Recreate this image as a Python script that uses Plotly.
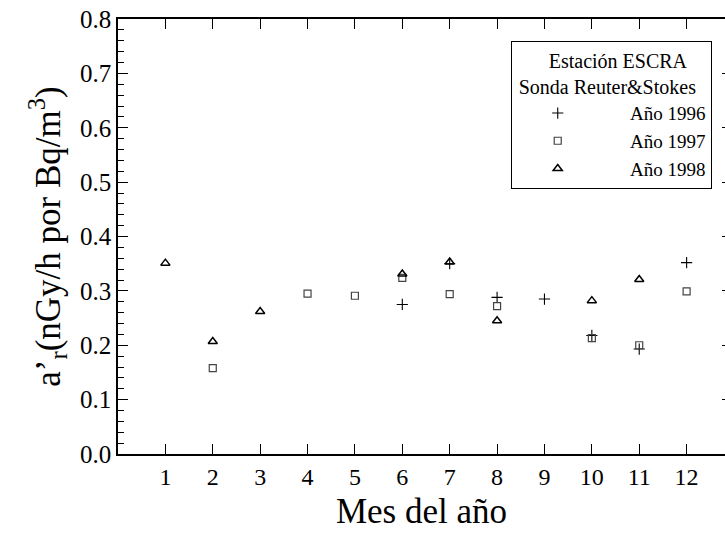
import plotly.graph_objects as go

months_1996 = [6, 7, 8, 9, 10, 11, 12]
vals_1996 = [0.275, 0.350, 0.288, 0.285, 0.218, 0.193, 0.352]

months_1997 = [2, 4, 5, 6, 7, 8, 10, 11, 12]
vals_1997 = [0.158, 0.295, 0.291, 0.324, 0.294, 0.272, 0.213, 0.200, 0.299]

months_1998 = [1, 2, 3, 6, 7, 8, 10, 11]
vals_1998 = [0.351, 0.207, 0.262, 0.331, 0.353, 0.245, 0.282, 0.321]

x_ticks = list(range(1, 13))
y_ticks = [round(0.1 * i, 1) for i in range(9)]

SERIF = "Liberation Serif"
NB = "\u00a0"
ENTRY_PAD = NB * 11

fig = go.Figure()
fig.add_trace(go.Scatter(
    x=months_1996, y=vals_1996, mode="markers", name=ENTRY_PAD + "Año 1996",
    marker=dict(symbol="cross-thin", size=8, color="black",
                line=dict(color="black", width=1.1))))
fig.add_trace(go.Scatter(
    x=months_1997, y=vals_1997, mode="markers", name=ENTRY_PAD + "Año 1997",
    marker=dict(symbol="square-open", size=7, color="#444",
                line=dict(color="#444", width=1.2))))
fig.add_trace(go.Scatter(
    x=months_1998, y=vals_1998, mode="markers", name=ENTRY_PAD + "Año 1998",
    marker=dict(symbol="triangle-up-open", size=8, color="black",
                line=dict(color="black", width=1.5))))
# empty trace carrying the right-side tick stubs
fig.add_trace(go.Scatter(x=[], y=[], yaxis="y2", showlegend=False))

fig.update_layout(
    width=725, height=533,
    margin=dict(l=118, r=0, t=19, b=79, autoexpand=False),
    paper_bgcolor="white", plot_bgcolor="white",
    font=dict(family=SERIF, color="black"),
    showlegend=True,
    legend=dict(
        x=0.647, y=0.949, xanchor="left", yanchor="top",
        bordercolor="black", borderwidth=1, bgcolor="white",
        font=dict(family=SERIF, size=19, color="black"),
        title=dict(text=NB * 7 + "Estación ESCRA<br>" + NB + "Sonda Reuter&Stokes",
                   side="top",
                   font=dict(family=SERIF, size=20, color="black")),
        tracegroupgap=0, itemwidth=30, indentation=26,
    ),
    xaxis=dict(
        range=[0, 12.81], tickmode="array", tickvals=x_ticks,
        ticktext=[str(v) for v in x_ticks],
        showline=True, linecolor="black", linewidth=1.5, mirror="ticks",
        ticks="inside", ticklen=10, tickwidth=1.3, tickcolor="black",
        showgrid=False, zeroline=False, automargin=False,
        tickfont=dict(family=SERIF, size=24, color="black"),
        title=dict(text="Mes del año", standoff=10,
                   font=dict(family=SERIF, size=35, color="black")),
    ),
    yaxis=dict(
        range=[0, 0.8], tickmode="array", tickvals=y_ticks,
        ticktext=[f"{v:.1f}" for v in y_ticks],
        showline=True, linecolor="black", linewidth=1.5, mirror=False,
        ticks="inside", ticklen=10, tickwidth=1.3, tickcolor="black",
        minor=dict(dtick=0.02, ticks="inside", ticklen=6, tickwidth=1.2,
                   tickcolor="black", showgrid=False),
        showgrid=False, zeroline=False, automargin=False,
        tickfont=dict(family=SERIF, size=25, color="black"),
        title=dict(text="a’<sub>r</sub>(nGy/h por Bq/m<sup>3</sup>)",
                   standoff=9,
                   font=dict(family=SERIF, size=35, color="black")),
    ),
    yaxis2=dict(
        range=[0, 0.8], overlaying="y", side="right", anchor="x",
        tickmode="array", tickvals=y_ticks,
        showline=False, showticklabels=False, showgrid=False, zeroline=False,
        ticks="inside", ticklen=3, tickwidth=1.3, tickcolor="black",
    ),
)

fig.write_html("out.html")
